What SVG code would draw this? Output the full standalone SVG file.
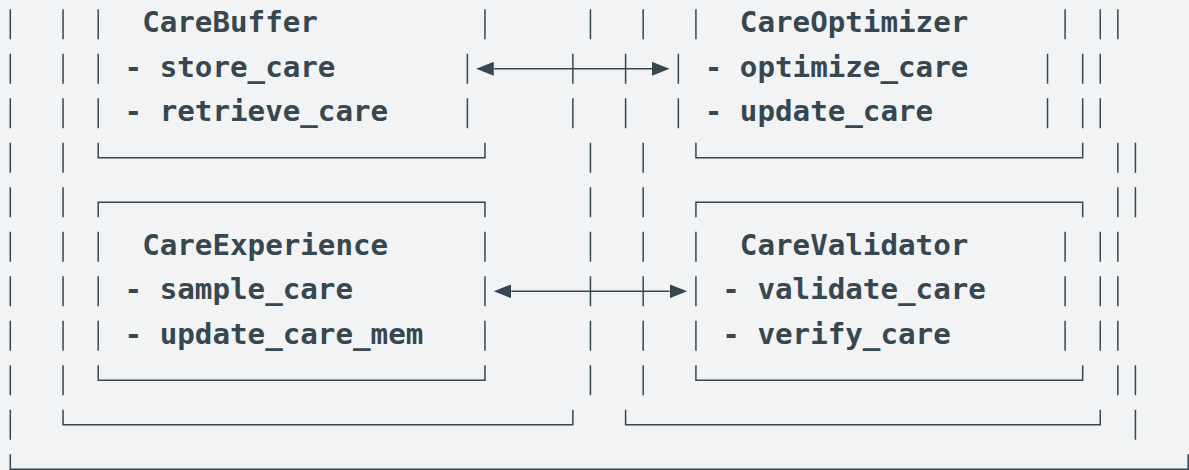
<svg xmlns="http://www.w3.org/2000/svg" width="1189" height="470" viewBox="0 0 1189 470">
<style>
.ln{fill:none;stroke:#37474f;stroke-width:1.5}
.t{font-family:"DejaVu Sans Mono","Liberation Mono",monospace;font-size:29.2px;font-weight:700;fill:#37474f}
</style>
<defs>
<marker id="ah" markerUnits="userSpaceOnUse" markerWidth="18" markerHeight="14" refX="0" refY="7" orient="auto-start-reverse" viewBox="0 0 18 14">
<path d="M0,0 L17.58,7 L0,14 z" fill="#37474f"/>
</marker>
</defs>
<rect width="1189" height="470" fill="#f1f3f5"/>
<g id="outer-frame">
<path class="ln" d="M10.3 9.3V39.3M10.3 53.8V83.8M10.3 98.3V128.3M10.3 142.8V172.8M10.3 187.3V217.3M10.3 231.8V261.8M10.3 276.3V306.3M10.3 320.8V350.8M10.3 365.3V395.3M10.3 409.8V439.8M10.3 454.3V469.3H1188.16V454.3"/>
</g>
<g id="left-group">
<path class="ln" d="M63.04 9.3V39.3M63.04 53.8V83.8M63.04 98.3V128.3M63.04 142.8V172.8M63.04 187.3V217.3M63.04 231.8V261.8M63.04 276.3V306.3M63.04 320.8V350.8M63.04 365.3V395.3M63.04 409.8V424.8H572.86V409.8M590.44 9.3V39.3M572.86 53.8V83.8M572.86 98.3V128.3M590.44 142.8V172.8M590.44 187.3V217.3M590.44 231.8V261.8M590.44 276.3V306.3M590.44 320.8V350.8M590.44 365.3V395.3"/>
</g>
<g id="right-group">
<path class="ln" d="M643.18 9.3V39.3M625.6 53.8V83.8M625.6 98.3V128.3M643.18 142.8V172.8M643.18 187.3V217.3M643.18 231.8V261.8M643.18 276.3V306.3M643.18 320.8V350.8M643.18 365.3V395.3M625.6 409.8V424.8H1100.26V409.8M1100.26 9.3V39.3M1082.68 53.8V83.8M1082.68 98.3V128.3M1117.84 142.8V172.8M1117.84 187.3V217.3M1100.26 231.8V261.8M1100.26 276.3V306.3M1100.26 320.8V350.8M1117.84 365.3V395.3"/>
</g>
<g id="right-rail">
<path class="ln" d="M1117.84 9.3V39.3M1100.26 53.8V83.8M1100.26 98.3V128.3M1135.42 142.8V172.8M1135.42 187.3V217.3M1117.84 231.8V261.8M1117.84 276.3V306.3M1117.84 320.8V350.8M1135.42 365.3V395.3M1135.42 409.8V439.8"/>
</g>
<g id="care-buffer">
<path class="ln" d="M98.2 9.3V39.3M98.2 53.8V83.8M98.2 98.3V128.3M98.2 142.8V157.8H484.96V142.8M484.96 9.3V39.3M467.38 53.8V83.8M467.38 98.3V128.3"/>
<text class="t" x="142.15" y="32.3">CareBuffer</text>
<text class="t" x="124.57" y="76.8">- store_care</text>
<text class="t" x="124.57" y="121.3">- retrieve_care</text>
</g>
<g id="care-optimizer">
<path class="ln" d="M695.92 9.3V39.3M678.34 53.8V83.8M678.34 98.3V128.3M695.92 142.8V157.8H1082.68V142.8M1065.1 9.3V39.3M1047.52 53.8V83.8M1047.52 98.3V128.3"/>
<text class="t" x="739.87" y="32.3">CareOptimizer</text>
<text class="t" x="704.71" y="76.8">- optimize_care</text>
<text class="t" x="704.71" y="121.3">- update_care</text>
</g>
<g id="care-experience">
<path class="ln" d="M98.2 217.3V202.3H484.96V217.3M98.2 231.8V261.8M98.2 276.3V306.3M98.2 320.8V350.8M484.96 231.8V261.8M484.96 276.3V306.3M484.96 320.8V350.8M98.2 365.3V380.3H484.96V365.3"/>
<text class="t" x="142.15" y="254.8">CareExperience</text>
<text class="t" x="124.57" y="299.3">- sample_care</text>
<text class="t" x="124.57" y="343.8">- update_care_mem</text>
</g>
<g id="care-validator">
<path class="ln" d="M695.92 217.3V202.3H1082.68V217.3M695.92 231.8V261.8M695.92 276.3V306.3M695.92 320.8V350.8M1065.1 231.8V261.8M1065.1 276.3V306.3M1065.1 320.8V350.8M695.92 365.3V380.3H1082.68V365.3"/>
<text class="t" x="739.87" y="254.8">CareValidator</text>
<text class="t" x="722.29" y="299.3">- validate_care</text>
<text class="t" x="722.29" y="343.8">- verify_care</text>
</g>
<g id="connectors">
<path class="ln" d="M493.75 68.8H651.97" marker-start="url(#ah)" marker-end="url(#ah)"/>
<path class="ln" d="M511.33 291.3H669.55" marker-start="url(#ah)" marker-end="url(#ah)"/>
</g>
</svg>
